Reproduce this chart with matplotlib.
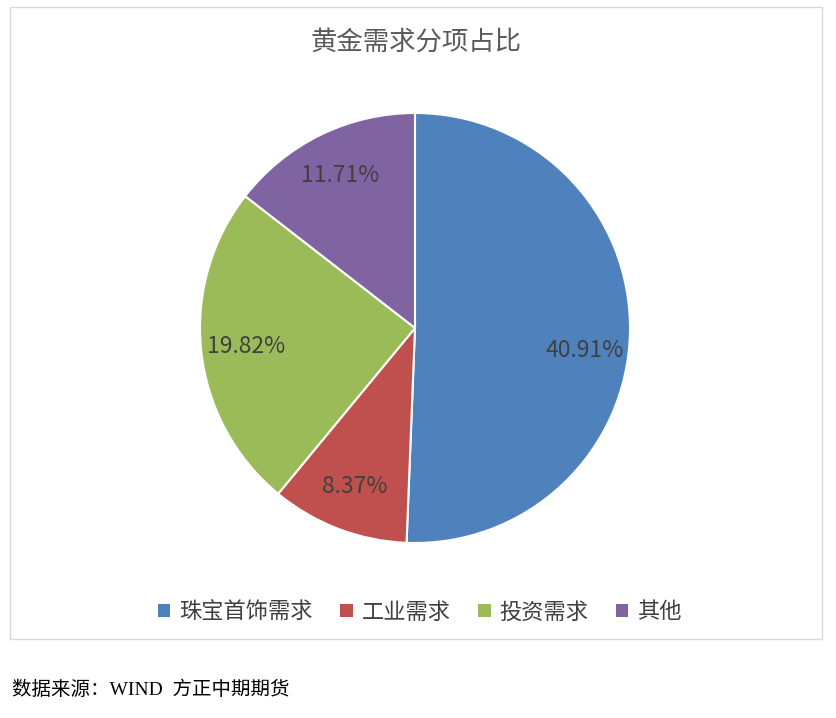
import matplotlib.pyplot as plt
from matplotlib.patches import Rectangle

plt.rcParams['font.family'] = ['Noto Sans CJK SC', 'DejaVu Sans']

# data
categories = ['珠宝首饰需求', '工业需求', '投资需求', '其他']
shares = [40.91, 8.37, 19.82, 11.71]
pct_labels = ['40.91%', '8.37%', '19.82%', '11.71%']
colors = ['#4F81BD', '#C0504D', '#9BBB59', '#8064A2']

W, H = 836, 718
fig = plt.figure(figsize=(W / 100, H / 100), dpi=100)

# outer chart frame
fig.patches.append(Rectangle((10 / W, 1 - 639 / H), 812 / W, 632 / H,
                             transform=fig.transFigure, fill=False,
                             edgecolor='#D9D9D9', linewidth=1))

# pie axes: centre (415, 328), radius 215 px
ax = fig.add_axes([(415 - 215) / W, (718 - 543) / H, 430 / W, 430 / H])
it = iter(pct_labels)
wedges, texts, autotexts = ax.pie(
    shares, colors=colors, startangle=90, counterclock=False,
    autopct=lambda p: next(it), pctdistance=0.79,
    wedgeprops=dict(edgecolor='white', linewidth=1.5),
    textprops=dict(fontsize=16.5, color='#404040'))
# Excel nudges the big slice label a little downwards
x0, y0 = autotexts[0].get_position()
autotexts[0].set_position((x0, y0 - 0.09))
ax.set_xlim(-1, 1)
ax.set_ylim(-1, 1)
ax.set_aspect('equal')

fig.text(416 / W, 1 - 42 / H, '黄金需求分项占比', ha='center', va='center',
         fontsize=19, color='#595959')

handles = [Rectangle((0, 0), 1, 1, facecolor=c, edgecolor='none') for c in colors]
fig.legend(handles, categories, loc='center', bbox_to_anchor=(420 / W, 1 - 612 / H),
           ncol=4, frameon=False, fontsize=16, handlelength=0.55, handleheight=0.55,
           handletextpad=0.4, columnspacing=1.25, labelcolor='#404040')

fig.text(12 / W, 1 - 690 / H, '数据来源：WIND  方正中期期货', ha='left', va='center',
         fontsize=14, color='black', family=['Liberation Serif', 'Noto Sans CJK SC'])

plt.savefig('out.png', dpi=100, facecolor='white')
